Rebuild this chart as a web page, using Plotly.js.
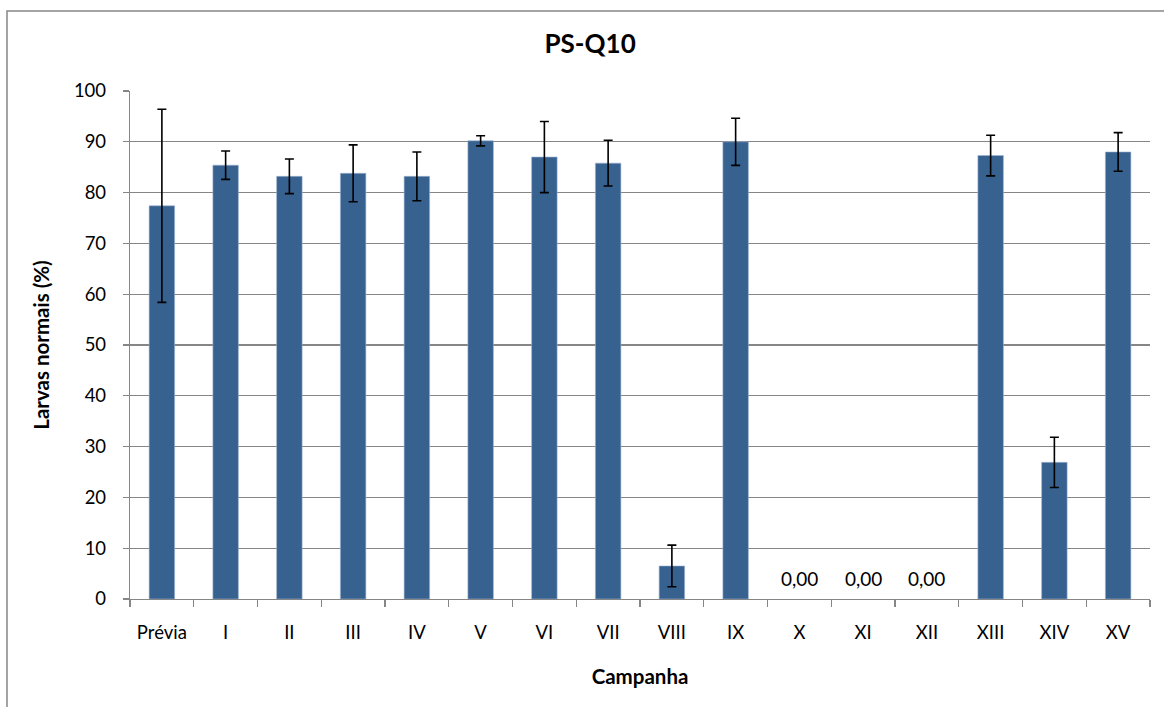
<!DOCTYPE html>
<html>
<head>
<meta charset="utf-8">
<script src="https://cdn.plot.ly/plotly-3.0.1.min.js"></script>
<style>
  html, body { margin: 0; padding: 0; background: #fff; }
  #chart { width: 1164px; height: 707px; }
</style>
</head>
<body>
<div id="chart"></div>
<script>
// Campaigns on the x axis
const campanhas = ['Prévia', 'I', 'II', 'III', 'IV', 'V', 'VI', 'VII', 'VIII', 'IX', 'X', 'XI', 'XII', 'XIII', 'XIV', 'XV'];
// Mean percentage of normal larvae per campaign
const larvasNormais = [77.4, 85.4, 83.2, 83.8, 83.2, 90.2, 87.0, 85.8, 6.5, 90.0, 0, 0, 0, 87.3, 26.9, 88.0];
// Standard deviation per campaign (null where no error bar is drawn)
const desvioPadrao = [19.0, 2.8, 3.4, 5.6, 4.8, 1.0, 7.0, 4.5, 4.1, 4.65, null, null, null, 4.0, 4.95, 3.8];

const FONT = 'Lato, "Open Sans", sans-serif';
const GRAY = '#868686';
const BAR = '#37618f';

// Empty campaigns get no visible bar body, only their value label
const isEmpty = larvasNormais.map(v => v === 0);

const barTrace = {
  type: 'bar',
  x: campanhas,
  y: larvasNormais,
  marker: {
    color: isEmpty.map(e => (e ? 'rgba(0,0,0,0)' : BAR)),
    line: { color: '#9fb6d3', width: isEmpty.map(e => (e ? 0 : 0.6)) }
  },
  error_y: {
    type: 'data',
    // NaN (not null) so that plotly skips the whisker entirely
    array: desvioPadrao.map(d => (d === null ? NaN : d)),
    visible: true,
    color: '#000',
    thickness: 1.6,
    width: 4.5
  },
  hoverinfo: 'x+y'
};

// Value labels for the empty campaigns, formatted with a decimal comma
const zeroLabels = campanhas
  .map((c, i) => ({ c, v: larvasNormais[i] }))
  .filter(d => d.v === 0)
  .map(d => ({
    x: d.c, y: d.v, xref: 'x', yref: 'y',
    text: d.v.toFixed(2).replace('.', ','),
    showarrow: false, yshift: 21,
    font: { family: FONT, size: 19, color: '#000' }
  }));

const layout = {
  width: 1164,
  height: 707,
  margin: { l: 130, r: 14, t: 91, b: 108, pad: 0 },
  paper_bgcolor: '#fff',
  plot_bgcolor: '#fff',
  showlegend: false,
  bargap: 0.6,
  font: { family: FONT, color: '#000', size: 18 },
  title: {
    text: 'PS-Q10',
    font: { family: FONT, size: 26, weight: 'bold', color: '#000' },
    x: 0.507, xanchor: 'center',
    y: 1 - 44 / 707, yanchor: 'middle', yref: 'container'
  },
  xaxis: {
    type: 'category',
    tickson: 'boundaries',
    ticks: 'outside',
    ticklen: 7,
    tickwidth: 1.2,
    tickcolor: GRAY,
    showline: true,
    linecolor: GRAY,
    linewidth: 1.2,
    showgrid: false,
    ticklabelstandoff: 17,
    tickfont: { family: FONT, size: 18.5, color: '#000' },
    automargin: false,
    title: {
      text: 'Campanha',
      font: { family: FONT, size: 20.5, weight: 'bold', color: '#000' },
      standoff: 27
    }
  },
  yaxis: {
    range: [0, 100],
    dtick: 10,
    ticks: 'outside',
    ticklen: 6,
    tickwidth: 1.2,
    tickcolor: GRAY,
    showline: true,
    linecolor: GRAY,
    linewidth: 1.2,
    showgrid: true,
    gridcolor: GRAY,
    gridwidth: 1.2,
    zeroline: false,
    ticklabelstandoff: 13,
    tickfont: { family: FONT, size: 18.5, color: '#000' },
    automargin: false,
    title: {
      text: 'Larvas normais (%)',
      font: { family: FONT, size: 20.5, weight: 'bold', color: '#000' },
      standoff: 18
    }
  },
  annotations: zeroLabels,
  shapes: [{
    type: 'rect', xref: 'paper', yref: 'paper',
    x0: (7 - 130) / 1020, x1: (1180 - 130) / 1020,
    y0: (599 - 730) / 508, y1: (599 - 11) / 508,
    line: { color: GRAY, width: 1.5 }, fillcolor: 'rgba(0,0,0,0)',
    layer: 'below'
  }]
};

Plotly.newPlot('chart', [barTrace], layout, { staticPlot: true, displayModeBar: false });
</script>
</body>
</html>
